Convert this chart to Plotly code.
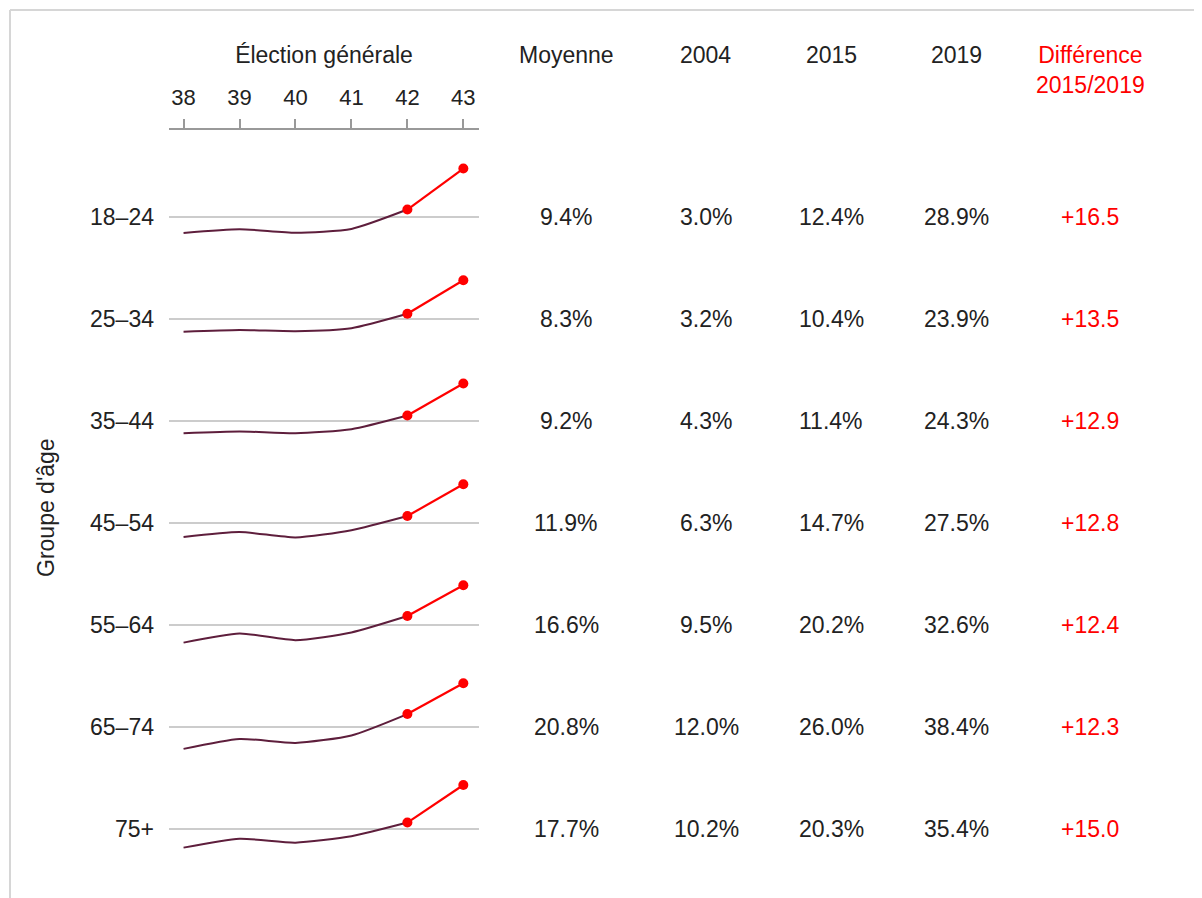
import plotly.graph_objects as go

# Taux (%) par groupe d'âge, élections générales 38 à 43
elections = [38, 39, 40, 41, 42, 43]
age_groups = ["18–24", "25–34", "35–44", "45–54", "55–64", "65–74", "75+"]

rate_18_24 = [3.0, 4.5, 3.1, 4.6, 12.4, 28.9]
rate_25_34 = [3.2, 3.9, 3.4, 4.6, 10.4, 23.9]
rate_35_44 = [4.3, 5.0, 4.3, 5.9, 11.4, 24.3]
rate_45_54 = [6.3, 8.3, 6.1, 9.0, 14.7, 27.5]
rate_55_64 = [9.5, 13.2, 10.5, 13.6, 20.2, 32.6]
rate_65_74 = [12.0, 16.0, 14.4, 17.4, 26.0, 38.4]
rate_75_plus = [10.2, 13.8, 12.2, 14.8, 20.3, 35.4]

# Colonnes du tableau
moyenne = [9.4, 8.3, 9.2, 11.9, 16.6, 20.8, 17.7]
pct_2004 = [3.0, 3.2, 4.3, 6.3, 9.5, 12.0, 10.2]
pct_2015 = [12.4, 10.4, 11.4, 14.7, 20.2, 26.0, 20.3]
pct_2019 = [28.9, 23.9, 24.3, 27.5, 32.6, 38.4, 35.4]
diff_2015_2019 = [16.5, 13.5, 12.9, 12.8, 12.4, 12.3, 15.0]

series = [rate_18_24, rate_25_34, rate_35_44, rate_45_54,
          rate_55_64, rate_65_74, rate_75_plus]

# the page body adds an 8px margin, so the figure is shrunk and shifted
PAGE_PAD = 8
W, H = 1202 - PAGE_PAD, 898 - PAGE_PAD
DARK = "#5e1e3c"
RED = "#ff0000"
TEXT = "#222222"
GRID = "#cccccc"
FONT = "Liberation Sans, Arial, sans-serif"

# layout in screen pixels (row baseline = moyenne)
ROW_TOP = 217
ROW_STEP = 102
PX_PER_PT = 2.485
BELOW, ABOVE = 10, 22


def fx(px):
    return (px - PAGE_PAD) / W


def fy(px):
    return 1 - (px - PAGE_PAD) / H


fig = go.Figure()
layout_axes = {}
annotations = []

for i, (grp, vals, m) in enumerate(zip(age_groups, series, moyenne)):
    yname = "y" if i == 0 else f"y{i + 1}"
    ykey = "yaxis" if i == 0 else f"yaxis{i + 1}"

    fig.add_trace(go.Scatter(
        x=elections[:5], y=vals[:5], mode="lines", xaxis="x", yaxis=yname,
        line=dict(color=DARK, width=2, shape="spline", smoothing=0.6),
        hoverinfo="skip"
    ))
    fig.add_trace(go.Scatter(
        x=elections[4:], y=vals[4:], mode="lines+markers", xaxis="x", yaxis=yname,
        line=dict(color=RED, width=2.2), marker=dict(color=RED, size=10)
    ))

    base = ROW_TOP + i * ROW_STEP
    layout_axes[ykey] = dict(
        domain=[fy(base + BELOW * PX_PER_PT), fy(base - ABOVE * PX_PER_PT)],
        range=[m - BELOW, m + ABOVE],
        anchor="x",
        tickvals=[m],
        ticktext=[grp],
        ticks="",
        ticklabelstandoff=14,
        tickfont=dict(family=FONT, size=23, color=TEXT),
        showgrid=True,
        gridcolor=GRID,
        gridwidth=1.5,
        zeroline=False,
        showline=False,
    )

    # table cells
    cells = [
        (566, f"{m:.1f}%", TEXT),
        (706, f"{pct_2004[i]:.1f}%", TEXT),
        (831, f"{pct_2015[i]:.1f}%", TEXT),
        (956, f"{pct_2019[i]:.1f}%", TEXT),
        (1090, f"+{diff_2015_2019[i]:.1f}", RED),
    ]
    for cx, txt, col in cells:
        annotations.append(dict(
            x=fx(cx), xref="paper", y=m, yref=yname, text=txt,
            showarrow=False, xanchor="center", yanchor="middle",
            font=dict(family=FONT, size=23, color=col)
        ))

# table headers
for cx, txt, col, cy in [
    (566, "Moyenne", TEXT, 55),
    (705, "2004", TEXT, 55),
    (831, "2015", TEXT, 55),
    (956, "2019", TEXT, 55),
    (1090, "Différence<br>2015/2019", RED, 70),
]:
    annotations.append(dict(
        x=fx(cx), xref="paper", y=fy(cy), yref="paper", text=txt,
        showarrow=False, xanchor="center", yanchor="middle",
        font=dict(family=FONT, size=23, color=col)
    ))

annotations.append(dict(
    x=fx(46), xref="paper", y=fy(508), yref="paper", text="Groupe d'âge",
    textangle=-90, showarrow=False, xanchor="center", yanchor="middle",
    font=dict(family=FONT, size=23, color=TEXT)
))

fig.update_layout(
    width=W,
    height=H,
    margin=dict(l=0, r=0, t=0, b=0),
    paper_bgcolor="white",
    plot_bgcolor="white",
    showlegend=False,
    xaxis=dict(
        domain=[fx(169), fx(479)],
        range=[37.74, 43.28],
        side="top",
        anchor="free",
        position=fy(129),
        tickvals=elections,
        ticks="outside",
        ticklen=9,
        tickwidth=1.5,
        tickcolor="#999999",
        ticklabelstandoff=5,
        tickfont=dict(family=FONT, size=22, color=TEXT),
        showline=True,
        linecolor="#999999",
        linewidth=1.5,
        showgrid=False,
        zeroline=False,
        automargin=False,
        title=dict(text="Élection générale", standoff=14,
                   font=dict(family=FONT, size=23, color=TEXT)),
    ),
    annotations=annotations,
    shapes=[
        dict(type="line", xref="paper", yref="paper", x0=fx(10), x1=1,
             y0=fy(10), y1=fy(10), line=dict(color="#d6d6d6", width=2)),
        dict(type="line", xref="paper", yref="paper", x0=fx(10), x1=fx(10),
             y0=fy(10), y1=0, line=dict(color="#d6d6d6", width=2)),
    ],
    **layout_axes,
)

fig.write_html("out.html")
